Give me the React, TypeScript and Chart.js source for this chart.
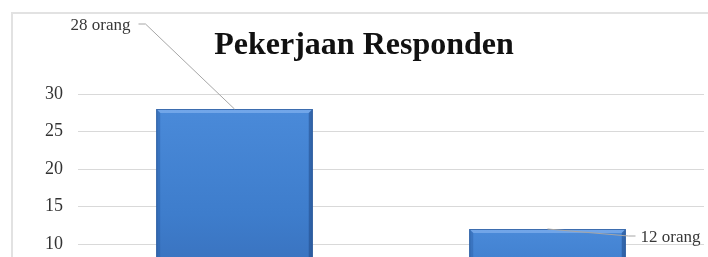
import React, { useEffect, useRef } from "react";
import { Chart, registerables } from "chart.js";

Chart.register(...registerables);

// ---- data ----
const categories = ["Bekerja", "Tidak Bekerja"];
const respondents = [28, 12];
const valueLabels = ["28 orang", "12 orang"];
const yMin = 0;
const yMax = 30;
const yStep = 5;
const chartTitle = "Pekerjaan Responden";

const FONT = "'Liberation Serif', 'Times New Roman', serif";

const calloutPlugin = {
  id: "callouts",
  afterDatasetsDraw(chart: any, _args: any, opts: any) {
    const { ctx } = chart;
    const meta = chart.getDatasetMeta(0);
    meta.data.forEach((bar: any, i: number) => {
      const c = opts.items[i];
      if (!c) return;
      const x = bar.x;
      const y = bar.y;
      ctx.save();
      ctx.strokeStyle = "#a6a6a6";
      ctx.lineWidth = 1;
      ctx.beginPath();
      ctx.moveTo(x, y);
      c.line.forEach((p: number[]) => ctx.lineTo(x + p[0], y + p[1]));
      ctx.stroke();
      ctx.fillStyle = "#383838";
      ctx.font = `17px ${FONT}`;
      ctx.textAlign = c.align;
      ctx.textBaseline = "middle";
      ctx.fillText(valueLabels[i], x + c.text[0], y + c.text[1]);
      ctx.restore();
    });
  },
};

const bevelPlugin = {
  id: "bevel",
  afterDatasetDraw(chart: any) {
    const { ctx } = chart;
    const meta = chart.getDatasetMeta(0);
    const b = 4;
    meta.data.forEach((bar: any) => {
      const l = bar.x - bar.width / 2;
      const r = bar.x + bar.width / 2;
      const t = bar.y;
      const bt = bar.base;
      ctx.save();
      ctx.fillStyle = "rgba(120,170,235,0.85)";
      ctx.beginPath();
      ctx.moveTo(l, t);
      ctx.lineTo(r, t);
      ctx.lineTo(r - b, t + b);
      ctx.lineTo(l + b, t + b);
      ctx.closePath();
      ctx.fill();
      ctx.fillStyle = "rgba(40,90,160,0.4)";
      ctx.beginPath();
      ctx.moveTo(l, t);
      ctx.lineTo(l + b, t + b);
      ctx.lineTo(l + b, bt);
      ctx.lineTo(l, bt);
      ctx.closePath();
      ctx.fill();
      ctx.fillStyle = "rgba(30,70,130,0.5)";
      ctx.beginPath();
      ctx.moveTo(r, t);
      ctx.lineTo(r - b, t + b);
      ctx.lineTo(r - b, bt);
      ctx.lineTo(r, bt);
      ctx.closePath();
      ctx.fill();
      ctx.strokeStyle = "rgba(40,85,150,0.7)";
      ctx.lineWidth = 1;
      ctx.strokeRect(l + 0.5, t + 0.5, r - l - 1, bt - t);
      ctx.restore();
    });
  },
};

export default function App() {
  const ref = useRef<HTMLCanvasElement | null>(null);

  useEffect(() => {
    if (!ref.current) return;
    const chart = new Chart(ref.current, {
      type: "bar",
      data: {
        labels: categories,
        datasets: [
          {
            data: respondents,
            backgroundColor: (context: any) => {
              const ch = context.chart;
              if (!ch.chartArea || context.raw == null) return "#3f7fcf";
              const ys = ch.scales.y;
              const top = ys.getPixelForValue(context.raw);
              const bottom = ys.getPixelForValue(0);
              const g = ch.ctx.createLinearGradient(0, top, 0, bottom);
              g.addColorStop(0, "#4a8ad9");
              g.addColorStop(0.5, "#3e7dcc");
              g.addColorStop(1, "#3568b2");
              return g;
            },
            borderWidth: 0,
            categoryPercentage: 1,
            barPercentage: 0.5,
          },
        ],
      },
      options: {
        animation: false,
        responsive: false,
        layout: { padding: { left: 24, right: 4, top: 0, bottom: 11 } },
        plugins: {
          legend: { display: false },
          tooltip: { enabled: false },
          title: {
            display: true,
            text: chartTitle,
            color: "#111111",
            font: { family: FONT, size: 32, weight: "bold", lineHeight: 1.2 },
            padding: { top: 27, bottom: 28.6 },
          },
          callouts: {
            items: [
              { line: [[-89, -85], [-96, -85]], text: [-104, -83], align: "right" },
              { line: [[81, 7], [88, 7]], text: [93, 9], align: "left" },
            ],
          },
        } as any,
        scales: {
          x: {
            grid: { display: false },
            border: { display: false },
            ticks: { color: "#333333", font: { family: FONT, size: 18 } },
            afterFit: (s: any) => {
              s.height = 40;
            },
          },
          y: {
            min: yMin,
            max: yMax,
            ticks: {
              stepSize: yStep,
              color: "#333333",
              padding: 15,
              font: { family: FONT, size: 18 },
            },
            grid: { color: "#d9d9d9", drawTicks: false, lineWidth: 1 },
            border: { display: false },
            afterFit: (s: any) => {
              s.width = 54;
            },
          },
        },
      },
      plugins: [bevelPlugin, calloutPlugin],
    });
    return () => chart.destroy();
  }, []);

  return (
    <div
      style={{
        position: "fixed",
        left: 0,
        top: 0,
        width: 708,
        height: 257,
        overflow: "hidden",
        background: "#ffffff",
      }}
    >
      <div
        style={{
          position: "absolute",
          left: 11,
          top: 12,
          width: 720,
          height: 400,
          border: "2px solid #e2e2e2",
        }}
      />
      <canvas
        ref={ref}
        width={708}
        height={370}
        style={{ position: "absolute", left: 0, top: 0, width: 708, height: 370 }}
      />
    </div>
  );
}
